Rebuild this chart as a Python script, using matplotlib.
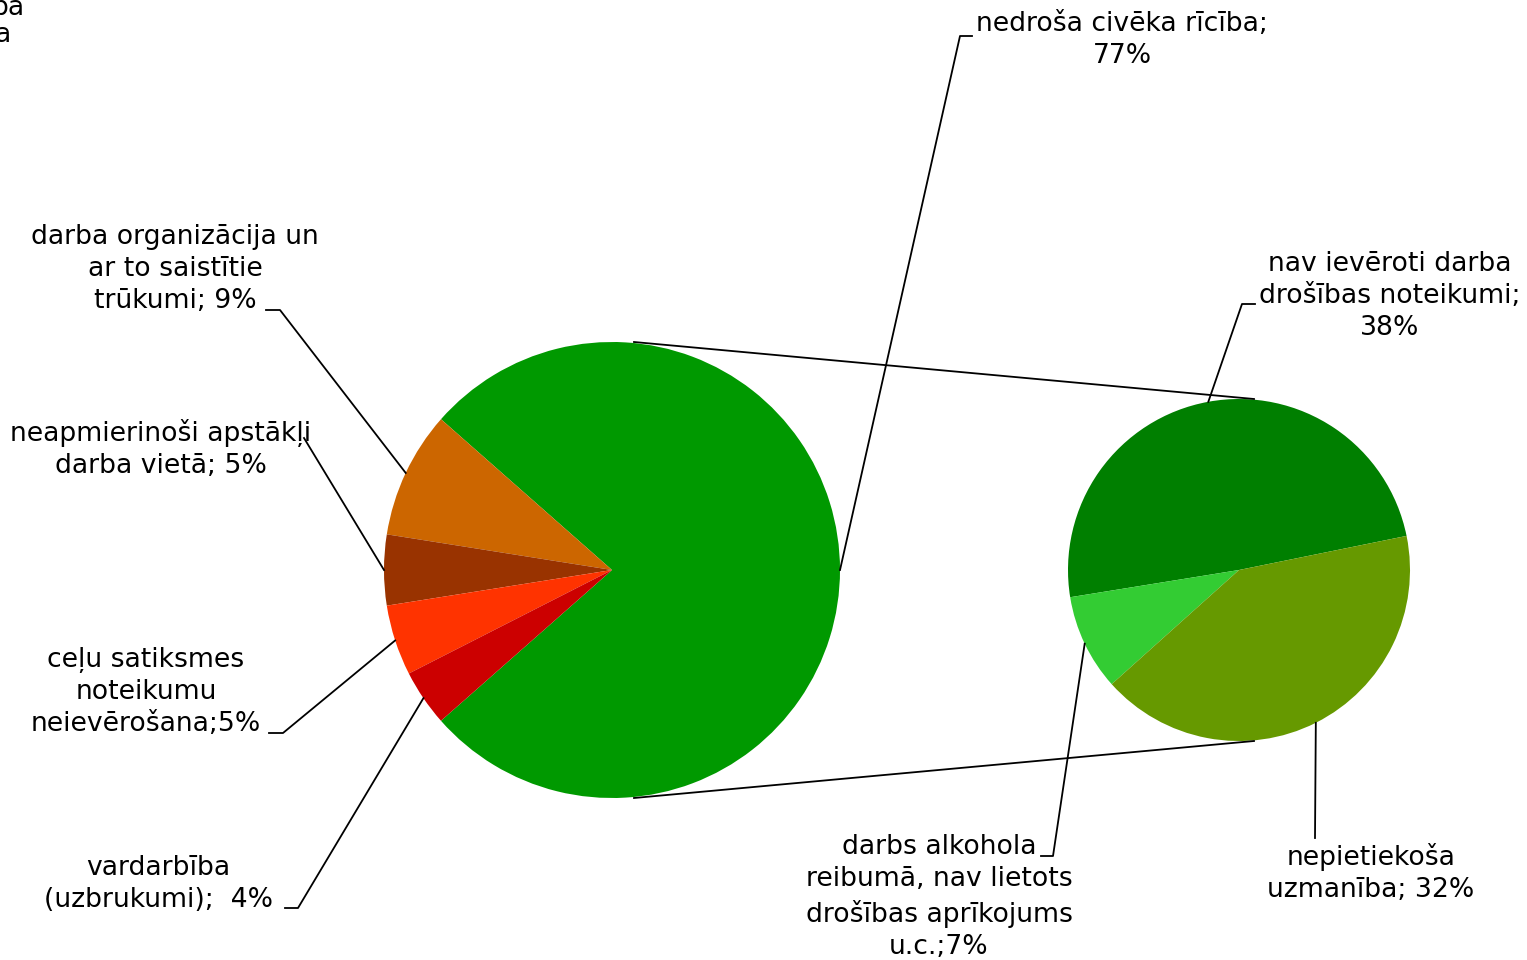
import numpy as np
import matplotlib
matplotlib.use("Agg")
import matplotlib.pyplot as plt

# main pie
main_labels = ["nedroša civēka rīcība;\n77%",
               "darba organizācija un\nar to saistītie\ntrūkumi; 9%",
               "neapmierinoši apstākļi\ndarba vietā; 5%",
               "ceļu satiksmes\nnoteikumu\nneievērošana;5%",
               "vardarbība\n(uzbrukumi);  4%"]
main_vals = [77, 9, 5, 5, 4]
main_colors = ["#009900", "#CC6600", "#993300", "#FF3300", "#CC0000"]

# breakdown of the 77%
sub_labels = ["nav ievēroti darba\ndrošības noteikumi;\n38%",
              "darbs alkohola\nreibumā, nav lietots\ndrošības aprīkojums\nu.c.;7%",
              "nepietiekoša\nuzmanība; 32%"]
sub_vals = [38, 7, 32]
sub_colors = ["#007F00", "#33CC33", "#669900"]

W, H = 1527, 960
def Y(y):
    return H - y

plt.rcParams['font.family'] = ['DejaVu Sans']
FS = 19.2

fig = plt.figure(figsize=(W / 100, H / 100), dpi=100)
ax = fig.add_axes([0, 0, 1, 1])

c_main = (612, Y(570)); r_main = 228
c_sub = (1239, Y(570)); r_sub = 171

w_main, _ = ax.pie(main_vals, colors=main_colors, center=c_main, radius=r_main,
                   startangle=-main_vals[0] / sum(main_vals) * 180,
                   wedgeprops=dict(linewidth=0))
w_sub, _ = ax.pie(sub_vals, colors=sub_colors, center=c_sub, radius=r_sub,
                  startangle=11.5, wedgeprops=dict(linewidth=0))

ax.set_xlim(0, W)
ax.set_ylim(0, H)
ax.axis("off")

# lines joining the two pies
ax.plot([c_main[0] + 22, c_sub[0] + 15], [c_main[1] + r_main, c_sub[1] + r_sub], color="black", lw=1.3)
ax.plot([c_main[0] + 22, c_sub[0] + 15], [c_main[1] - r_main, c_sub[1] - r_sub], color="black", lw=1.3)

def edge_point(w, c, r):
    a = np.deg2rad((w.theta1 + w.theta2) / 2)
    return c[0] + r * np.cos(a), c[1] + r * np.sin(a)

# leader bends (image pixels) and label centres
main_leaders = [[(960, 36), (972, 36)],
                [(280, 310), (266, 310)],
                [(304, 438)],
                [(283, 733), (269, 733)],
                [(298, 908), (285, 908)]]
main_pos = [(1122, 40), (175, 269), (161, 449), (146, 692), (158, 884)]
sub_leaders = [[(1242, 304), (1255, 304)],
               [(1053, 856), (1041, 856)],
               [(1315, 838)]]
sub_pos = [(1390, 296), (939, 897), (1371, 873)]

for ws, c, r, leaders, labels, positions in [(w_main, c_main, r_main, main_leaders, main_labels, main_pos),
                                             (w_sub, c_sub, r_sub, sub_leaders, sub_labels, sub_pos)]:
    for w, pts, lab, pos in zip(ws, leaders, labels, positions):
        x0, y0 = edge_point(w, c, r)
        xs = [x0] + [p[0] for p in pts]
        ys = [y0] + [Y(p[1]) for p in pts]
        ax.plot(xs, ys, color="black", lw=1.3)
        ax.text(pos[0], Y(pos[1]), lab, ha="center", va="center", fontsize=FS,
                linespacing=1.32)

# clipped leftover text in the corner
ax.text(25, Y(8), "ba", ha="right", va="center", fontsize=FS)
ax.text(11, Y(35), "a", ha="right", va="center", fontsize=FS)

fig.savefig("out.png", dpi=100)
